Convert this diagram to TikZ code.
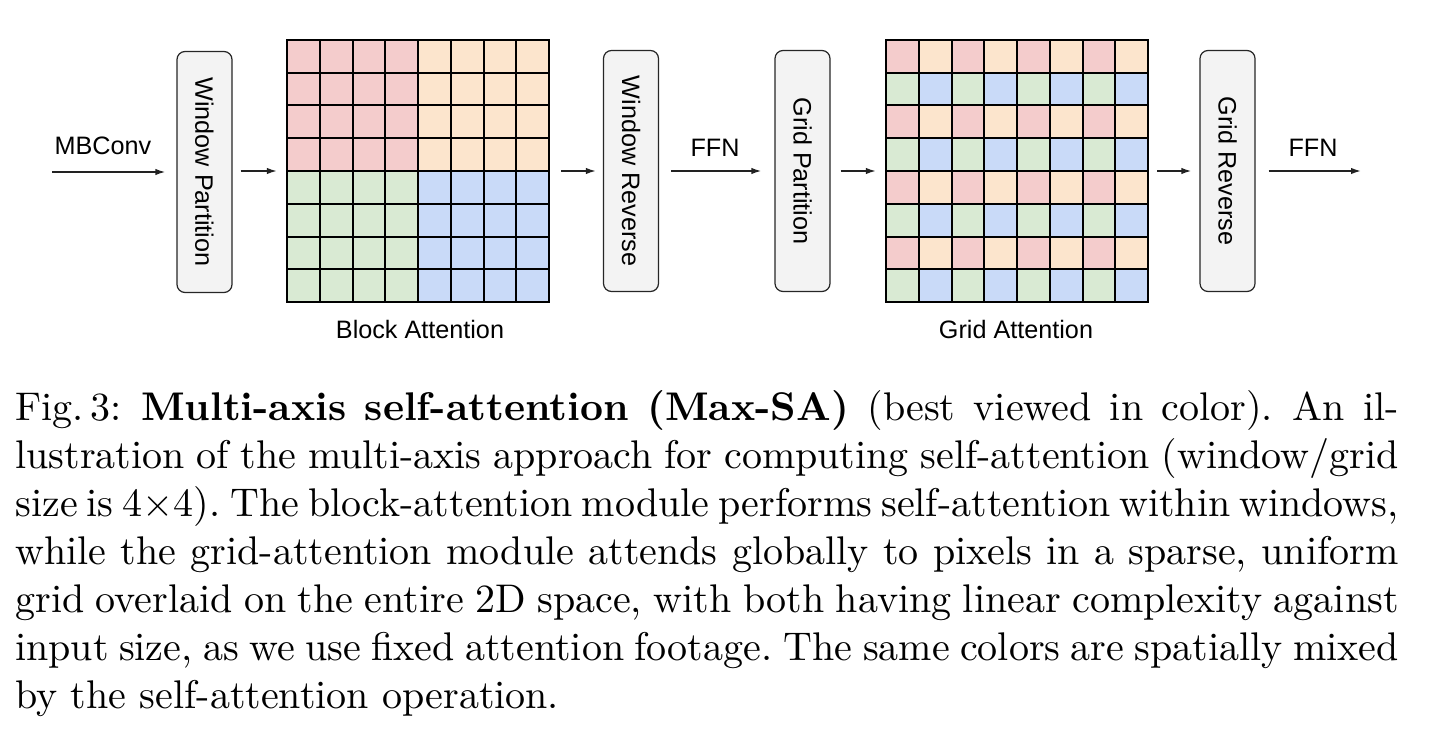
\documentclass[tikz,border=0pt]{standalone}
\usepackage{fontspec}
\setsansfont{Liberation Sans}
\usepackage{graphicx}
\usetikzlibrary{arrows.meta}
\definecolor{cred}{HTML}{F4CCCC}
\definecolor{corange}{HTML}{FCE5CD}
\definecolor{cgreen}{HTML}{D9EAD3}
\definecolor{cblue}{HTML}{C9DAF8}
\definecolor{boxgray}{HTML}{F3F3F3}
\definecolor{linegray}{HTML}{222222}
\begin{document}
\begin{tikzpicture}[x=0.5pt,y=-0.5pt,
  lab/.style={font=\sffamily\fontsize{12.6}{15}\selectfont, inner sep=0pt},
  stepbox/.style={draw=black!85, fill=boxgray, rounded corners=4pt, line width=0.6pt,
    minimum width=27.5pt, minimum height=120.5pt, inner sep=0pt,
    font=\sffamily\fontsize{12.6}{15}\selectfont},
  arr/.style={draw=linegray, line width=0.75pt, -{Latex[length=5pt,width=3.2pt]}},
  gridline/.style={draw=black, line width=1pt},
  gridframe/.style={draw=black, line width=1.1pt, minimum size=131pt, inner sep=0pt}
]
\useasboundingbox (0,0) rectangle (1434,749);

% ---------- Block attention grid ----------
\fill[cred]    (287,40)  rectangle (418,171);
\fill[corange] (418,40)  rectangle (549,171);
\fill[cgreen]  (287,171) rectangle (418,302);
\fill[cblue]   (418,171) rectangle (549,302);
\foreach \k in {1,...,7}{
  \draw[gridline] (287+\k*32.75,40) -- (287+\k*32.75,302);
  \draw[gridline] (287,40+\k*32.75) -- (549,40+\k*32.75);
}
\node[gridframe] (ba) at (418,171) {};

% ---------- Grid attention grid ----------
\foreach \r in {0,2,4,6}{
  \foreach \c in {0,2,4,6}{
    \fill[cred]    (886+\c*32.75,40+\r*32.75) rectangle ++(32.75,32.75);
    \fill[corange] (886+\c*32.75+32.75,40+\r*32.75) rectangle ++(32.75,32.75);
    \fill[cgreen]  (886+\c*32.75,40+\r*32.75+32.75) rectangle ++(32.75,32.75);
    \fill[cblue]   (886+\c*32.75+32.75,40+\r*32.75+32.75) rectangle ++(32.75,32.75);
  }
}
\foreach \k in {1,...,7}{
  \draw[gridline] (886+\k*32.75,40) -- (886+\k*32.75,302);
  \draw[gridline] (886,40+\k*32.75) -- (1148,40+\k*32.75);
}
\node[gridframe] (ga) at (1017,171) {};

% ---------- Boxes ----------
\node[stepbox] (wp) at (204.5,172) {\rotatebox{-90}{Window Partition}};
\node[stepbox] (wr) at (631,171) {\rotatebox{-90}{Window Reverse}};
\node[stepbox] (gp) at (802.5,171) {\rotatebox{-90}{Grid Partition}};
\node[stepbox] (gr) at (1227.5,171) {\rotatebox{-90}{Grid Reverse}};

% ---------- Labels ----------
\node[lab, anchor=base] (lmb) at (103,155) {MBConv};
\node[lab, anchor=base] (lffna) at (715,156) {FFN};
\node[lab, anchor=base] (lffnb) at (1313,156) {FFN};
\node[lab, anchor=base] (lba) at (420,338) {Block Attention};
\node[lab, anchor=base] (lga) at (1016,338) {Grid Attention};

% ---------- Arrows ----------
\coordinate (in) at (52,172);
\coordinate (out) at (1361,171);
\draw[arr, shorten >=5.5pt] (in) -- (wp.west);
\draw[arr, shorten <=4pt, shorten >=4.5pt] (wp.east |- ba.west) -- (ba.west);
\draw[arr, shorten <=5.5pt, shorten >=3.5pt] (ba.east) -- (wr.west);
\draw[arr, shorten <=6pt, shorten >=6.5pt] (wr.east) -- (gp.west);
\draw[arr, shorten <=5pt, shorten >=4.5pt] (gp.east) -- (ga.west);
\draw[arr, shorten <=4pt, shorten >=4pt] (ga.east) -- (gr.west);
\draw[arr, shorten <=6.5pt] (gr.east) -- (out);

% ---------- Caption ----------
\node[anchor=base west, inner sep=0pt] (cap) at (15,420) {\scalebox{2}{\parbox[t]{345.8pt}{\fontsize{10}{12}\selectfont
\spaceskip=3.33pt plus 2pt minus 1.9pt\relax
\xspaceskip=3.6pt plus 2pt minus 1.9pt\relax
\hbadness=10000 \hfuzz=2pt
Fig.\,3: \textbf{Multi-axis self-attention (Max-SA)} (best viewed in color). An il-\linebreak
lustration of the multi-axis approach for computing self-attention (window/grid\linebreak
size is 4$\times$4). The block-attention module performs self-attention within windows,\linebreak
while the grid-attention module attends globally to pixels in a sparse, uniform\linebreak
grid overlaid on the entire 2D space, with both having linear complexity against\linebreak
input size, as we use fixed attention footage. The same colors are spatially mixed\linebreak
by the self-attention operation.}}};
\end{tikzpicture}
\end{document}
